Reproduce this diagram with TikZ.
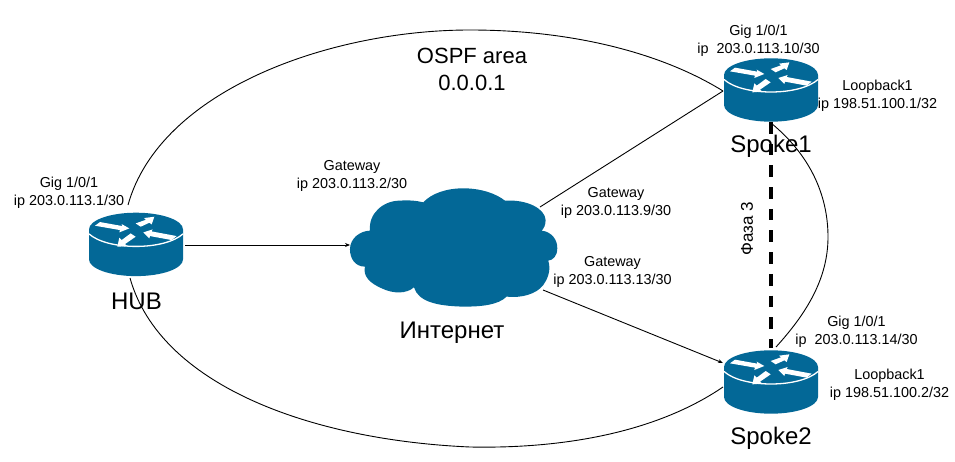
\documentclass[tikz,border=0pt]{standalone}
\usepackage{fontspec}
\setmainfont{Liberation Sans}
\usetikzlibrary{arrows.meta}
\definecolor{ciscoblue}{HTML}{036897}
\tikzset{
  x=1pt,y=-1pt,
  anchorbox/.style={inner sep=0pt,outer sep=0pt,rectangle},
  smalltext/.style={align=center,inner sep=0pt,font=\fontsize{14.4}{18}\selectfont},
  ospftext/.style={align=center,inner sep=0pt,font=\fontsize{22}{27}\selectfont},
  bigtext/.style={align=center,inner sep=0pt,font=\fontsize{24}{27}\selectfont},
  link/.style={draw=black,line width=0.9pt},
  linkarrow/.style={link,-{Stealth[length=5pt,width=4pt]}},
  phase/.style={draw=black,line width=4pt,dash pattern=on 11.7pt off 10pt},
  routerpic/.pic={
    \fill[ciscoblue] (-47,0) .. controls (-47,-9.2) and (-26,-16.7) .. (0,-16.7)
      .. controls (26,-16.7) and (47,-9.2) .. (47,0) -- (47,30)
      .. controls (47,39.2) and (26,46.7) .. (0,46.7)
      .. controls (-26,46.7) and (-47,39.2) .. (-47,30) -- cycle;
    \draw[white,line width=1.3pt] (-47,4.5) .. controls (-38,12.5) and (-20,17) .. (0,17)
      .. controls (20,17) and (38,12.5) .. (47,4.5);
    \begin{scope}[x=0.3333pt,y=-0.3333pt,shift={(-198,-118)}]
      \fill[white] (75,107) -- (90,96) -- (157,108) -- (155,102) -- (178,115) -- (148,127) -- (150,120) -- cycle;
      \fill[white] (197,100) -- (212,110) -- (238,98) -- (245,103) -- (253,80) -- (222,84) -- (228,89) -- cycle;
      \fill[white] (182,130) -- (197,140) -- (165,162) -- (172,168) -- (142,170) -- (148,143) -- (155,150) -- cycle;
      \fill[white] (220,127) -- (248,118) -- (245,124) -- (320,138) -- (305,150) -- (240,138) -- (238,145) -- cycle;
    \end{scope}
  }
}
\begin{document}
\begin{tikzpicture}
\useasboundingbox (0,0) rectangle (955,462);
% invisible node boxes
\node[anchorbox,minimum width=98pt,minimum height=73pt] (hub) at (136,241.5) {};
\node[anchorbox,minimum width=96pt,minimum height=67pt] (spokeone) at (771,89.5) {};
\node[anchorbox,minimum width=96pt,minimum height=67pt] (spoketwo) at (771,380.5) {};
\node[anchorbox,minimum width=195pt,minimum height=119pt] (cloud) at (447.5,247.5) {};
% shapes
\pic at (136,229.4) {routerpic};
\pic at (771,75) {routerpic};
\pic at (771,367) {routerpic};
\begin{scope}[x=0.3333pt,y=-0.3333pt,shift={(1020,510)}]
\fill[ciscoblue] (250,97) .. controls (275,70) and (320,55) .. (370,55)
  .. controls (425,55) and (470,72) .. (495,92)
  .. controls (560,88) and (615,115) .. (617,150)
  .. controls (617,165) and (612,175) .. (605,182)
  .. controls (635,185) and (653,210) .. (652,235)
  .. controls (652,258) and (640,270) .. (625,272)
  .. controls (632,295) and (628,320) .. (610,345)
  .. controls (590,372) and (545,385) .. (500,380)
  .. controls (475,405) and (425,410) .. (370,410)
  .. controls (290,408) and (235,395) .. (222,352)
  .. controls (200,372) and (160,372) .. (125,355)
  .. controls (90,340) and (68,318) .. (75,290)
  .. controls (45,290) and (30,265) .. (30,238)
  .. controls (30,205) and (60,183) .. (90,182)
  .. controls (85,130) and (130,92) .. (180,92)
  .. controls (205,90) and (230,92) .. (250,97) -- cycle;
\end{scope}
% texts
\node[smalltext] (lhub) at (69,193) {Gig 1/0/1\\ip 203.0.113.1/30};
\node[smalltext] (lgwa) at (352,176) {Gateway\\ip 203.0.113.2/30};
\node[smalltext] (lsone) at (758.5,41) {Gig 1/0/1\\ip\ \ 203.0.113.10/30};
\node[smalltext] (llbone) at (877.5,95.5) {Loopback1\\ip 198.51.100.1/32};
\node[smalltext] (lgwb) at (616,203) {Gateway\\ip 203.0.113.9/30};
\node[smalltext] (lgwc) at (612.5,272) {Gateway\\ip 203.0.113.13/30};
\node[smalltext] (lstwo) at (856.5,332) {Gig 1/0/1\\ip\ \ 203.0.113.14/30};
\node[smalltext] (llbtwo) at (889.5,385) {Loopback1\\ip 198.51.100.2/32};
\node[ospftext] (ospf) at (472,69) {OSPF area\\0.0.0.1};
\node[bigtext] (nhub) at (136.5,301.5) {HUB};
\node[bigtext] (nsone) at (771,146) {Spoke1};
\node[bigtext] (nstwo) at (771,438) {Spoke2};
\node[bigtext] (ninet) at (452,332.5) {Интернет};
\node[inner sep=0pt,rotate=90,font=\fontsize{17}{20}\selectfont] (nphase) at (747,229) {Фаза 3};
% connectors
\path[link] ([xshift=-8pt]hub.north) .. controls (160,90) and (330,30) .. (470,30)
  .. controls (570,30) and (660,52) .. ([yshift=-1.5pt]spokeone.west);
\path[link] ([xshift=-6pt]hub.south) .. controls (160,385) and (310,440) .. (470,447)
  .. controls (570,449) and (660,430) .. ([yshift=-6.5pt]spoketwo.west);
\path[linkarrow] ([yshift=-3.5pt]hub.east) -- ([yshift=2.5pt]cloud.west);
\path[link] ([xshift=-5pt,yshift=40.5pt]cloud.east) -- ([yshift=-1.5pt]spokeone.west);
\path[linkarrow] ([xshift=-2pt,yshift=-42.5pt]cloud.east) -- ([yshift=17.5pt]spoketwo.west);
\path[link] (spokeone.south) .. controls (810,155) and (828,195) .. (828,237)
  .. controls (828,280) and (805,315) .. ([xshift=5pt]spoketwo.north);
\path[phase] ([yshift=1pt]spokeone.south) -- ([yshift=-1pt]spoketwo.north);
\end{tikzpicture}
\end{document}
